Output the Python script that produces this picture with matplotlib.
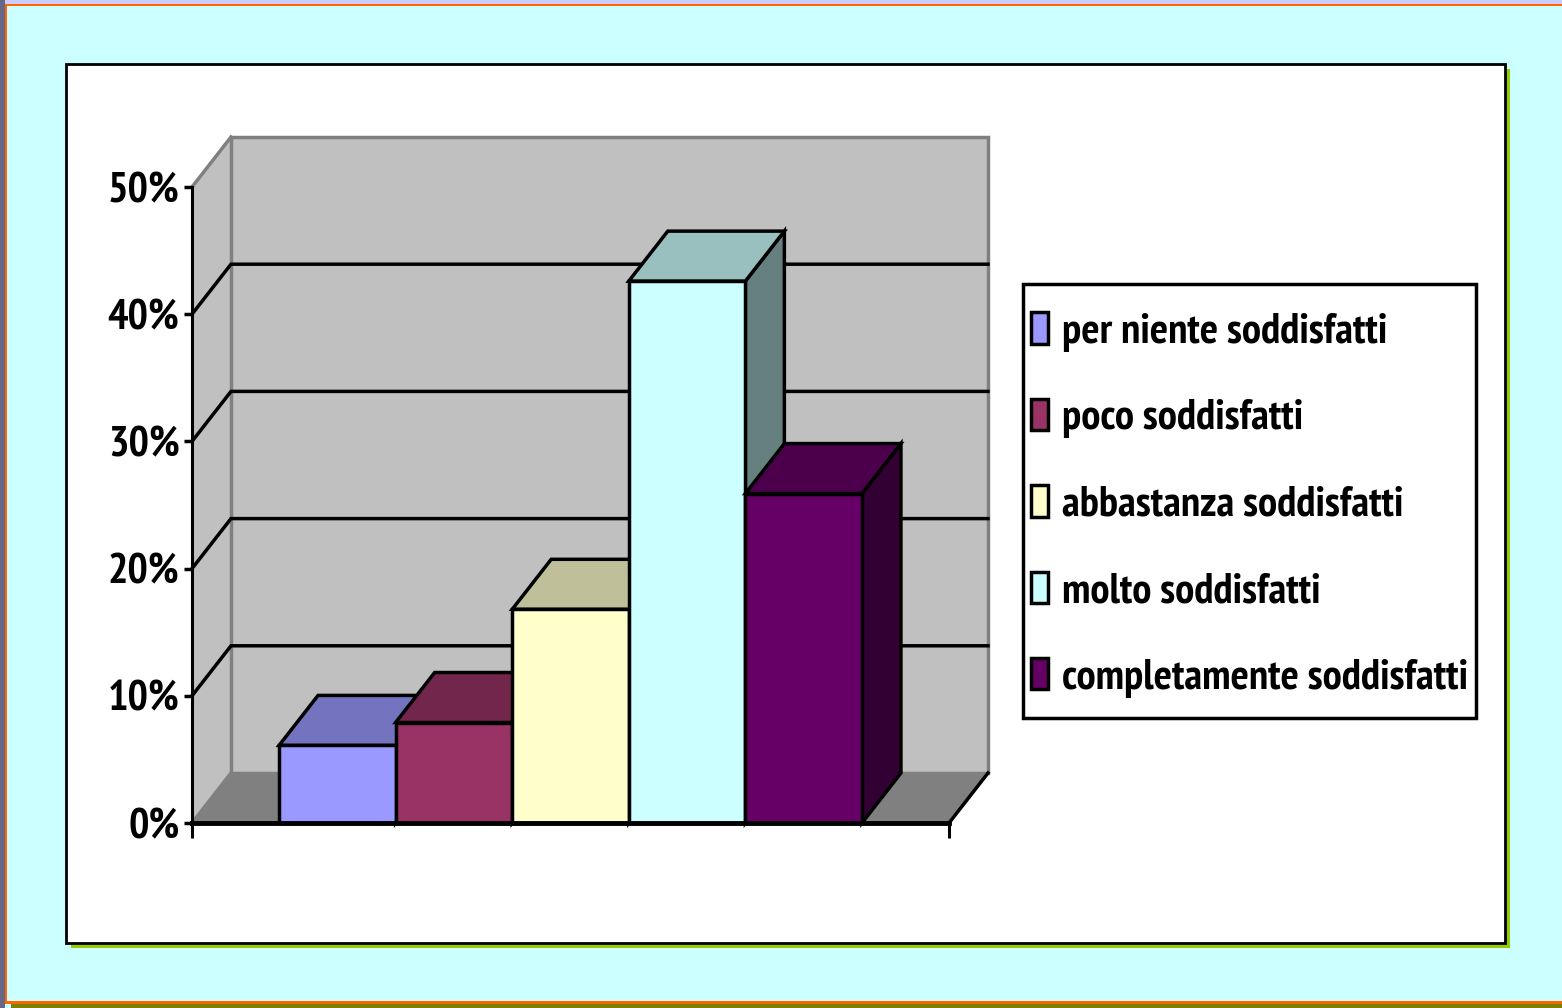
import matplotlib
matplotlib.use("Agg")
import matplotlib.pyplot as plt
from matplotlib import font_manager as fm
from matplotlib.patches import Rectangle, Polygon, Patch
from matplotlib.ticker import FuncFormatter

# ---- data ----
categories = ["per niente soddisfatti", "poco soddisfatti", "abbastanza soddisfatti",
              "molto soddisfatti", "completamente soddisfatti"]
values = [6.1, 7.9, 16.8, 42.6, 25.9]          # percent
front_colors = ["#9999FF", "#993366", "#FFFFCC", "#CCFFFF", "#660066"]
top_colors = ["#7373BF", "#73264C", "#BFBF99", "#99BFBF", "#4C004C"]
side_colors = ["#4C4C80", "#4C1933", "#808066", "#668080", "#330033"]
yticks = [0, 10, 20, 30, 40, 50]

W, H = 1562, 1008
plt.rcParams["font.family"] = ["Liberation Sans", "DejaVu Sans"]
plt.rcParams["font.weight"] = "bold"

fig = plt.figure(figsize=(W / 100, H / 100), dpi=100, facecolor="#CCFFFF")
renderer = fig.canvas.get_renderer()


def is_bold(w):
    if isinstance(w, (int, float)):
        return w >= 600
    return str(w).lower() in ("bold", "semibold", "demibold", "demi", "heavy", "black")


def pick_font(label, target_px=405, target_pt=34):
    # narrow bold sans look: pick the bold face whose size for the wanted
    # text width comes closest to the wanted height
    cands = []
    for f in fm.fontManager.ttflist:
        if f.style != "normal" or not is_bold(f.weight):
            continue
        txt = (f.name + " " + f.fname).lower()
        if "mono" in txt or "code" in txt or ("serif" in txt and "sans" not in txt):
            continue
        if not any(k in txt for k in ("sans", "arial", "helvet", "roboto", "lato", "inter")):
            continue
        narrow = "narrow" in txt or "condensed" in txt
        if narrow or f.name in ("Liberation Sans", "DejaVu Sans"):
            cands.append(f.fname)
    best = None
    for path in sorted(set(cands)):
        try:
            fp = fm.FontProperties(fname=path, size=30)
            w, h, d = renderer.get_text_width_height_descent(label, fp, ismath=False)
        except Exception:
            continue
        size = 30 * target_px / w
        score = abs(min(size, 40) - target_pt)
        if best is None or score < best[0]:
            best = (score, path, min(size, 40))
    if best is None:
        return fm.FontProperties(family="DejaVu Sans", weight="bold", size=22)
    return fm.FontProperties(fname=best[1], size=best[2])


fp = pick_font(categories[-1])


def fig_rect(x0, y0, x1, y1, z=-5, **kw):
    # pixel box (top-left origin) -> figure fraction rectangle, behind the axes
    r = Rectangle((x0 / W, 1 - y1 / H), (x1 - x0) / W, (y1 - y0) / H,
                  transform=fig.transFigure, zorder=z, **kw)
    fig.add_artist(r)
    return r


# outer slide frame
fig_rect(0, 0, W, 4, facecolor="#CCCCFF", edgecolor="none")
fig_rect(0, 0, 5, H, facecolor="#666688", edgecolor="none")
fig_rect(5, 4, W, 6, facecolor="#FF6600", edgecolor="none")
fig_rect(5, 4, 7, 1004, facecolor="#FF6600", edgecolor="none")
fig_rect(5, 1001, W, 1004, facecolor="#FF6600", edgecolor="none")
fig_rect(11, 1004, W, H, facecolor="#808000", edgecolor="none")

# chart panel with green shadow
fig_rect(71, 69, 1510, 948, facecolor="#99CC00", edgecolor="none")
fig_rect(66, 64, 1505, 943, facecolor="white", edgecolor="black", linewidth=2)
# legend box
fig_rect(1023, 284, 1476, 718, z=-4, facecolor="white", edgecolor="black", linewidth=2.5)

# ---- plot area (front face of the 3D box) ----
ax = fig.add_axes([192 / W, (H - 823) / H, 757 / W, 636 / H])
ax.set_xlim(0, 1)
ax.set_ylim(0, 50)
ax.patch.set_visible(False)

DX = 39 / 757          # depth offset in x data units
DY = 50 / 636 * 50     # depth offset in y data units
ymax = yticks[-1]

# side wall, back wall, floor
ax.add_patch(Polygon([(0, 0), (0, ymax), (DX, ymax + DY), (DX, DY)],
                     closed=True, facecolor="#C0C0C0", edgecolor="none", zorder=0.5, clip_on=False))
ax.add_patch(Rectangle((DX, DY), 1, ymax, facecolor="#C0C0C0", edgecolor="#808080",
                       linewidth=2.5, zorder=0.6, clip_on=False))
ax.add_patch(Polygon([(0, 0), (DX, DY), (1 + DX, DY), (1, 0)],
                     closed=True, facecolor="#808080", edgecolor="none", zorder=0.7, clip_on=False))
ax.plot([0, DX], [ymax, ymax + DY], color="#808080", lw=2.5, zorder=0.8, clip_on=False)
ax.plot([0, DX], [0, DY], color="#808080", lw=2.5, zorder=0.8, clip_on=False)
ax.plot([1, 1 + DX], [0, DY], color="black", lw=2.5, zorder=0.8, clip_on=False)

# gridlines on side and back wall
for t in yticks[1:-1]:
    ax.plot([0, DX, 1 + DX], [t, t + DY, t + DY], color="black", lw=2.5,
            zorder=0.9, clip_on=False, solid_joinstyle="miter")

# ---- 3D bars ----
bw = 0.154
gap = (1 - len(values) * bw) / 2
for i, v in enumerate(values):
    x0 = gap + i * bw
    x1 = x0 + bw
    z = 2 + i
    ax.add_patch(Polygon([(x1, 0), (x1 + DX, DY), (x1 + DX, v + DY), (x1, v)], closed=True,
                         facecolor=side_colors[i], edgecolor="black", lw=2.5, zorder=z, clip_on=False))
    ax.add_patch(Polygon([(x0, v), (x1, v), (x1 + DX, v + DY), (x0 + DX, v + DY)], closed=True,
                         facecolor=top_colors[i], edgecolor="black", lw=2.5, zorder=z, clip_on=False))
    ax.add_patch(Rectangle((x0, 0), bw, v, facecolor=front_colors[i], edgecolor="black",
                           lw=2.5, zorder=z, clip_on=False))

# axes styling
for s in ["top", "right"]:
    ax.spines[s].set_visible(False)
ax.spines["left"].set_linewidth(2.2)
ax.spines["bottom"].set_linewidth(3.5)
ax.spines["left"].set_zorder(10)
ax.spines["bottom"].set_zorder(10)
ax.set_yticks(yticks)
ax.yaxis.set_major_formatter(FuncFormatter(lambda v, p: f"{v:.0f}%"))
ax.tick_params(axis="y", direction="out", length=6, width=2.5, pad=3, labelcolor="black")
ax.set_xticks([0, 1])
ax.set_xticklabels([])
ax.tick_params(axis="x", direction="out", length=11, width=2.2)
for lab in ax.get_yticklabels():
    lab.set_fontproperties(fp)

# ---- legend ----
fs_px = fp.get_size_in_points() * 100 / 72
handles = [Patch(facecolor=c, edgecolor="black", linewidth=2.5) for c in front_colors]
leg = ax.legend(handles, categories, loc="center left",
                bbox_to_anchor=(1031 / W, 1 - 505 / H), bbox_transform=fig.transFigure,
                prop=fp, frameon=False, borderpad=0,
                labelspacing=(87.5 - 0.95 * fs_px) / fs_px,
                handlelength=17 / fs_px, handleheight=0.77 * 41.7 / fs_px,
                handletextpad=14 / fs_px, borderaxespad=0)

fig.savefig("out.png", dpi=100, facecolor=fig.get_facecolor())
